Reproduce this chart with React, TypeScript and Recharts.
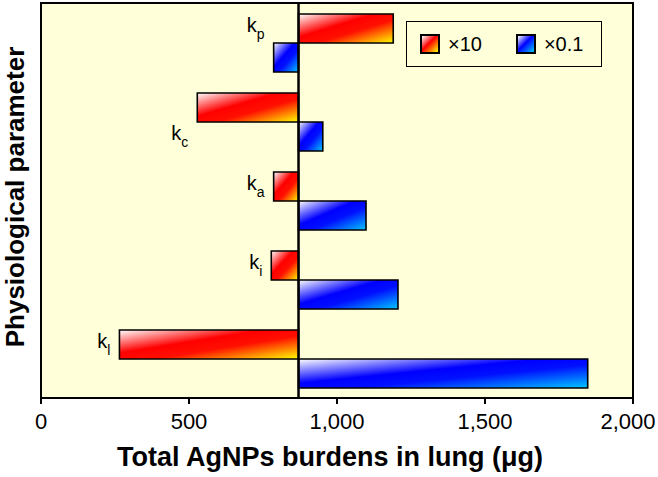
import { Bar, BarChart, CartesianGrid, LabelList, ReferenceArea, ReferenceLine, XAxis, YAxis } from 'recharts';

const params = ['p', 'c', 'a', 'i', 'l'];
const times10 = [1190, 528, 786, 778, 265];
const times01 = [786, 952, 1098, 1206, 1847];
const baseline = 870;
const xTicks = [0, 500, 1000, 1500, 2000];

const data = params.map((name, i) => ({ name, x10: times10[i], x01: times01[i] }));

const font = '"Liberation Sans", Arial, sans-serif';
const bg = '#FFFFDA';

// kc label sits on the blue row, the others on the red row
const labelOnBlue = [false, true, false, false, false];

const KLabel = (props: any) => {
  const { x, y, width, height, index } = props;
  const redLo = Math.min(baseline, times10[index]);
  const redHi = Math.max(baseline, times10[index]);
  const ppu = width / (redHi - redLo);
  const blueLo = Math.min(baseline, times01[index]);
  const left = x + (Math.min(redLo, blueLo) - redLo) * ppu;
  const cy = y + height / 2 + (labelOnBlue[index] ? height : 0);
  return (
    <text x={left - 9} y={cy + 3} textAnchor="end" fontSize={20} fontFamily={font} fill="#000">
      k<tspan fontSize={14} dy={7}>{params[index]}</tspan>
    </text>
  );
};

// keeps the last tick label ("2,000") inside the picture
const XTick = (props: any) => {
  const { x, y, payload } = props;
  const label = Number(payload.value).toLocaleString('en-US');
  const cx = Math.min(x, 628);
  return (
    <text x={cx} y={y} dy="0.71em" textAnchor="middle" fontSize={22} fontFamily={font} fill="#000">
      {label}
    </text>
  );
};

export default function App() {
  return (
    <div style={{ position: 'absolute', left: 0, top: 0, width: 658, height: 477, background: '#fff' }}>
      <BarChart
        width={658}
        height={477}
        data={data}
        layout="vertical"
        margin={{ top: 3, right: 25, left: 0, bottom: 0 }}
        barSize={29}
        barGap={0}
      >
        <defs>
          <linearGradient id="redGrad" x1="0" y1="0" x2="1" y2="1">
            <stop offset="0" stopColor="#FFFFFF" />
            <stop offset="0.4" stopColor="#FF0000" />
            <stop offset="0.6" stopColor="#FF1000" />
            <stop offset="1" stopColor="#FFFF00" />
          </linearGradient>
          <linearGradient id="blueGrad" x1="0" y1="0" x2="1" y2="1">
            <stop offset="0" stopColor="#FFFFFF" />
            <stop offset="0.42" stopColor="#0000FF" />
            <stop offset="0.6" stopColor="#0010FF" />
            <stop offset="1" stopColor="#00C8FF" />
          </linearGradient>
        </defs>
        <CartesianGrid horizontal={false} vertical={false} fill={bg} fillOpacity={1} />
        <XAxis
          type="number"
          domain={[0, 2000]}
          ticks={xTicks}
          height={79}
          axisLine={{ stroke: '#000', strokeWidth: 2 }}
          tickLine={{ stroke: '#000', strokeWidth: 2 }}
          tickSize={6}
          tickMargin={9}
          tick={<XTick />}
          label={{
            content: () => (
              <text x={330} y={466} textAnchor="middle" fontSize={27} fontWeight="bold" fontFamily={font} fill="#000">
                Total AgNPs burdens in lung (μg)
              </text>
            )
          }}
        />
        <YAxis
          type="category"
          dataKey="name"
          width={41}
          tick={false}
          axisLine={false}
          tickLine={false}
          label={{
            content: () => (
              <text
                x={0}
                y={0}
                transform="translate(24,197) rotate(-90)"
                textAnchor="middle"
                fontSize={26}
                fontWeight="bold"
                fontFamily={font}
                fill="#000"
              >
                Physiological parameter
              </text>
            )
          }}
        />
        <Bar
          dataKey={(d: any) => [Math.min(baseline, d.x10), Math.max(baseline, d.x10)]}
          name="×10"
          fill="url(#redGrad)"
          stroke="#000"
          strokeWidth={1.6}
          isAnimationActive={false}
        >
          <LabelList content={KLabel} />
        </Bar>
        <Bar
          dataKey={(d: any) => [Math.min(baseline, d.x01), Math.max(baseline, d.x01)]}
          name="×0.1"
          fill="url(#blueGrad)"
          stroke="#000"
          strokeWidth={1.6}
          isAnimationActive={false}
        />
        <ReferenceLine x={baseline} stroke="#000" strokeWidth={2.5} />
        <ReferenceArea x1={0} x2={2000} fill="none" stroke="#000" strokeWidth={2} />
      </BarChart>
      <div
        style={{
          position: 'absolute',
          left: 406,
          top: 21,
          width: 194,
          height: 44,
          border: '1px solid #000',
          background: bg,
          display: 'flex',
          alignItems: 'center',
          fontFamily: font,
          fontSize: 20,
          color: '#000'
        }}
      >
        {[
          { label: '×10', grad: 'linear-gradient(135deg, #fff 0%, #f00 45%, #ff0 100%)' },
          { label: '×0.1', grad: 'linear-gradient(135deg, #fff 0%, #00f 45%, #00c8ff 100%)' }
        ].map((item, i) => (
          <div key={item.label} style={{ display: 'flex', alignItems: 'center', marginLeft: i === 0 ? 13 : 34 }}>
            <span
              style={{
                display: 'inline-block',
                width: 16,
                height: 16,
                border: '2.5px solid #000',
                background: item.grad,
                marginRight: 8
              }}
            />
            <span>{item.label}</span>
          </div>
        ))}
      </div>
    </div>
  );
}
